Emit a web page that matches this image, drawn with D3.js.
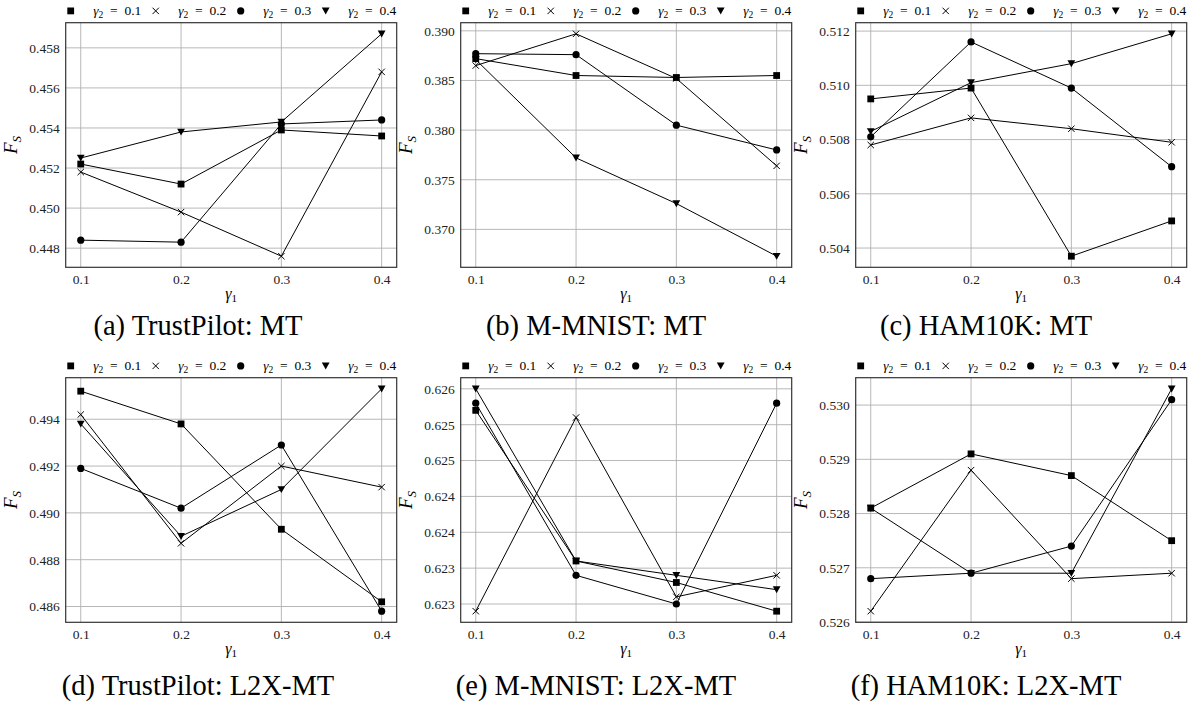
<!DOCTYPE html>
<html>
<head>
<meta charset="utf-8">
<script src="https://cdn.jsdelivr.net/npm/d3@7"></script>
<style>
  body { margin: 0; background: #fff; }
</style>
</head>
<body>
<svg width="1192" height="709"></svg>
<script>
// x values and legend
const gamma1 = [0.1, 0.2, 0.3, 0.4];
const gamma1Labels = ["0.1", "0.2", "0.3", "0.4"];
const gamma2Labels = ["0.1", "0.2", "0.3", "0.4"];
const markerTypes = ["square", "cross", "circle", "triangle"];

// one row per gamma2 value, one column per gamma1 value
const trustPilotMT = [
    [0.4522, 0.4512, 0.4539, 0.4536],
    [0.4518, 0.4498, 0.4476, 0.4568],
    [0.4484, 0.4483, 0.4542, 0.4544],
    [0.4525, 0.4538, 0.4543, 0.4587]
];
const mnistMT = [
    [0.3872, 0.3855, 0.3853, 0.3855],
    [0.3865, 0.3897, 0.3852, 0.3764],
    [0.3877, 0.3876, 0.3805, 0.3780],
    [0.3871, 0.3772, 0.3726, 0.3673]
];
const hamMT = [
    [0.5095, 0.5099, 0.5037, 0.5050],
    [0.5078, 0.5088, 0.5084, 0.5079],
    [0.5081, 0.5116, 0.5099, 0.5070],
    [0.5083, 0.5101, 0.5108, 0.5119]
];
const trustPilotL2X = [
    [0.4952, 0.4938, 0.4893, 0.4862],
    [0.4942, 0.4887, 0.4920, 0.4911],
    [0.4919, 0.4902, 0.4929, 0.4858],
    [0.4938, 0.4890, 0.4910, 0.4953]
];
const mnistL2X = [
    [0.6257, 0.6236, 0.6233, 0.6229],
    [0.6229, 0.6256, 0.6231, 0.6234],
    [0.6258, 0.6234, 0.6230, 0.6258],
    [0.6260, 0.6236, 0.6234, 0.6232]
];
const hamL2X = [
    [0.5281, 0.5291, 0.5287, 0.5275],
    [0.5262, 0.5288, 0.5268, 0.5269],
    [0.5268, 0.5269, 0.5274, 0.5301],
    [0.5281, 0.5269, 0.5269, 0.5303]
];

// y ticks per panel
const trustPilotMTTicks = [0.448, 0.450, 0.452, 0.454, 0.456, 0.458];
const mnistMTTicks = [0.370, 0.375, 0.380, 0.385, 0.390];
const hamMTTicks = [0.504, 0.506, 0.508, 0.510, 0.512];
const trustPilotL2XTicks = [0.486, 0.488, 0.490, 0.492, 0.494];
const mnistL2XTicks = [0.623, 0.6235, 0.624, 0.6245, 0.625, 0.6255, 0.626];
const mnistL2XTickLabels = ["0.623", "0.623", "0.624", "0.624", "0.625", "0.625", "0.626"];
const hamL2XTicks = [0.526, 0.527, 0.528, 0.529, 0.530];

const captions = [
    "(a) TrustPilot: MT", "(b) M-MNIST: MT", "(c) HAM10K: MT",
    "(d) TrustPilot: L2X-MT", "(e) M-MNIST: L2X-MT", "(f) HAM10K: L2X-MT"
];

const panels = [
    { data: trustPilotMT, ticks: trustPilotMTTicks },
    { data: mnistMT, ticks: mnistMTTicks },
    { data: hamMT, ticks: hamMTTicks },
    { data: trustPilotL2X, ticks: trustPilotL2XTicks },
    { data: mnistL2X, ticks: mnistL2XTicks, labels: mnistL2XTickLabels },
    { data: hamL2X, ticks: hamL2XTicks }
];

const FONT = "'Liberation Serif', 'DejaVu Serif', serif";
const svg = d3.select("svg");
const colLeft = [65.7, 460.7, 855.7];
const rowTop = [22.7, 377.7];
const pw = 331, ph = 244.6;
const capX = [198, 596, 986];
const capY = [335, 695];

function drawMarker(g, type, cx, cy) {
    if (type === "square") {
        g.append("rect").attr("x", cx - 3.4).attr("y", cy - 3.4)
            .attr("width", 6.8).attr("height", 6.8).attr("fill", "#000");
    } else if (type === "circle") {
        g.append("circle").attr("cx", cx).attr("cy", cy).attr("r", 3.6).attr("fill", "#000");
    } else if (type === "triangle") {
        g.append("path")
            .attr("d", `M${cx - 3.9},${cy - 3.3}L${cx + 3.9},${cy - 3.3}L${cx},${cy + 3.6}Z`)
            .attr("fill", "#000");
    } else {
        g.append("path")
            .attr("d", `M${cx - 3.2},${cy - 3.2}L${cx + 3.2},${cy + 3.2}M${cx - 3.2},${cy + 3.2}L${cx + 3.2},${cy - 3.2}`)
            .attr("stroke", "#000").attr("stroke-width", 1).attr("fill", "none");
    }
}

panels.forEach((p, i) => {
    const col = i % 3, row = Math.floor(i / 3);
    const left = colLeft[col], top = rowTop[row];
    const g = svg.append("g").attr("transform", `translate(${left},${top})`);

    const x = d3.scaleLinear().domain([0.085, 0.415]).range([0, pw]);
    const ext = d3.extent(p.data.flat());
    const pad = (ext[1] - ext[0]) * 0.05;
    const y = d3.scaleLinear().domain([ext[0] - pad, ext[1] + pad]).range([ph, 0]);

    // grid
    g.selectAll(".vg").data(gamma1).enter().append("line")
        .attr("x1", d => x(d)).attr("x2", d => x(d))
        .attr("y1", 0).attr("y2", ph)
        .attr("stroke", "#b0b0b0").attr("stroke-width", 0.9);
    g.selectAll(".hg").data(p.ticks).enter().append("line")
        .attr("x1", 0).attr("x2", pw)
        .attr("y1", d => y(d)).attr("y2", d => y(d))
        .attr("stroke", "#b0b0b0").attr("stroke-width", 0.9);

    // axes
    const yAxis = d3.axisLeft(y).tickValues(p.ticks).tickSize(0).tickPadding(6)
        .tickFormat((d, k) => p.labels ? p.labels[k] : d3.format(".3f")(d));
    const ya = g.append("g").call(yAxis);
    const xAxis = d3.axisBottom(x).tickValues(gamma1).tickSize(0).tickPadding(7)
        .tickFormat((d, k) => gamma1Labels[k]);
    const xa = g.append("g").attr("transform", `translate(0,${ph})`).call(xAxis);
    [ya, xa].forEach(a => {
        a.attr("font-family", null).attr("font-size", null);
        a.select(".domain").remove();
        a.selectAll("text").style("font-family", FONT).style("font-size", "13.5px").attr("fill", "#222");
    });

    // lines
    const line = d3.line().x((d, k) => x(gamma1[k])).y(d => y(d));
    p.data.forEach(s => {
        g.append("path").attr("d", line(s)).attr("fill", "none")
            .attr("stroke", "#000").attr("stroke-width", 1);
    });
    p.data.forEach((s, si) => {
        s.forEach((v, k) => drawMarker(g, markerTypes[si], x(gamma1[k]), y(v)));
    });

    // frame
    g.append("rect").attr("width", pw).attr("height", ph)
        .attr("fill", "none").attr("stroke", "#333").attr("stroke-width", 1.2);

    // legend
    const lg = g.append("g").attr("transform", `translate(0,${-11.8})`);
    gamma2Labels.forEach((lab, k) => {
        const mx = 5 + 85 * k;
        drawMarker(lg, markerTypes[k], mx, 0);
        const t = lg.append("text").attr("x", mx + 22.6).attr("y", 4.5)
            .style("font-family", FONT).style("font-size", "13.5px");
        t.append("tspan").attr("font-style", "italic").text("γ");
        t.append("tspan").attr("dy", 3).style("font-size", "9.5px").text("2");
        t.append("tspan").attr("dy", -3).text("\u2002=\u2002" + lab);
    });

    // x title
    const xt = g.append("text").attr("x", pw / 2).attr("y", ph + 32)
        .attr("text-anchor", "middle").style("font-family", FONT).style("font-size", "16px");
    xt.append("tspan").attr("font-style", "italic").text("γ");
    xt.append("tspan").attr("dy", 3).style("font-size", "11px").text("1");

    // y title
    const yt = g.append("text").attr("transform", `translate(-48.7,${ph / 2}) rotate(-90)`)
        .attr("text-anchor", "middle").style("font-family", FONT).style("font-size", "19px");
    yt.append("tspan").attr("font-style", "italic").text("F");
    yt.append("tspan").attr("font-style", "italic").attr("dy", 4).style("font-size", "13px").text("S");

    // caption
    svg.append("text").attr("x", capX[col]).attr("y", capY[row])
        .attr("text-anchor", "middle").style("font-family", FONT).style("font-size", "28.5px")
        .text(captions[i]);
});
</script>
</body>
</html>
